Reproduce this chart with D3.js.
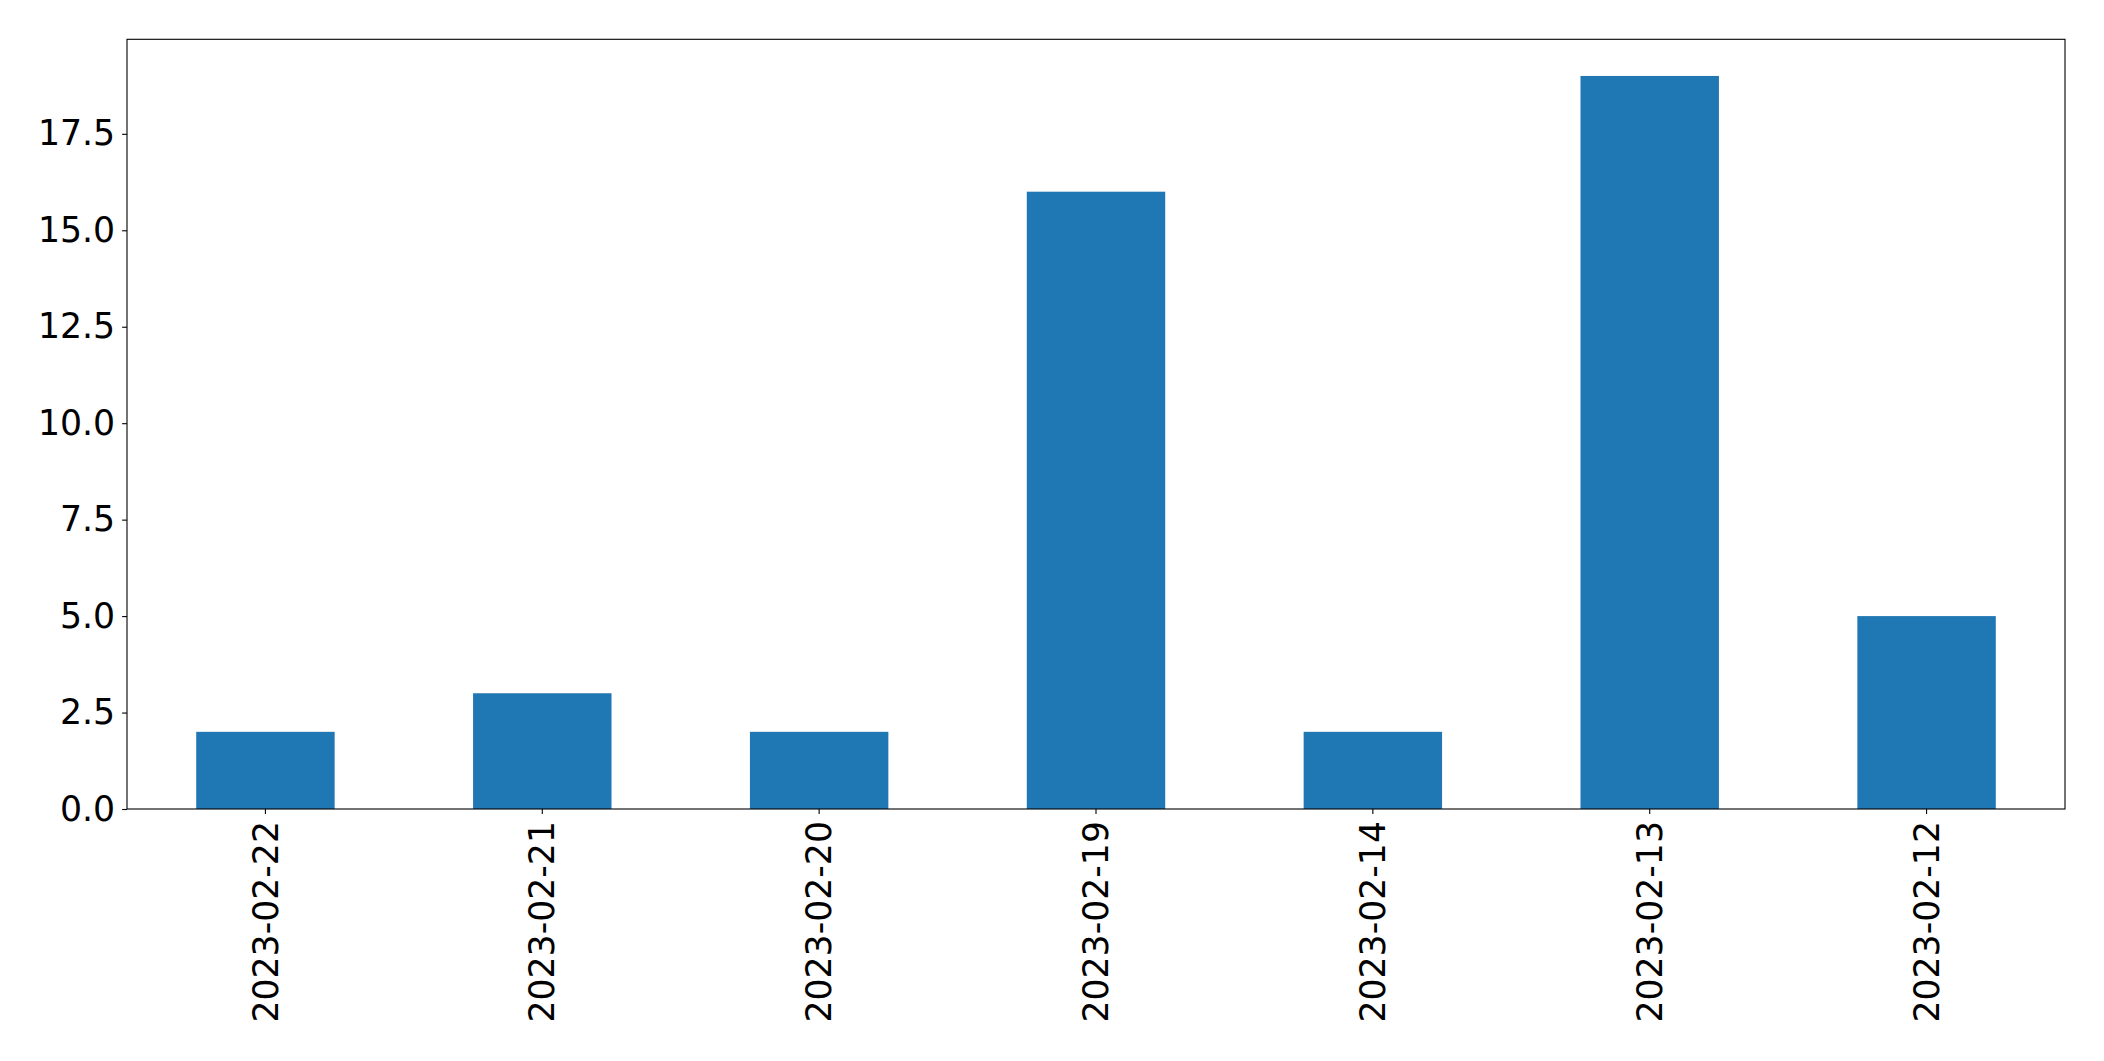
<!DOCTYPE html>
<html><head><meta charset="utf-8">
<script src="https://cdn.jsdelivr.net/npm/d3@7"></script>
<style>html,body{margin:0;padding:0;background:#fff;}</style>
</head><body>
<svg id="chart" width="2104" height="1061"></svg>
<script>
const categories = ["2023-02-22","2023-02-21","2023-02-20","2023-02-19","2023-02-14","2023-02-13","2023-02-12"];
const values = [2, 3, 2, 16, 2, 19, 5];
const yTicks = [0, 2.5, 5, 7.5, 10, 12.5, 15, 17.5];

const W = 2104, H = 1061;
const m = {left: 127, right: 2065, top: 39.3, bottom: 809};
const svg = d3.select("#chart");
const fs = 34.7;

const x = d3.scaleBand().domain(categories).range([m.left, m.right]).paddingInner(0.5).paddingOuter(0.25);
const y = d3.scaleLinear().domain([0, d3.max(values) * 1.05]).range([m.bottom, m.top]);

svg.append("g").selectAll("rect").data(values).join("rect")
  .attr("x", (d, i) => x(categories[i]))
  .attr("width", x.bandwidth())
  .attr("y", d => y(d))
  .attr("height", d => y(0) - y(d))
  .attr("fill", "#1f77b4");

const yAxis = svg.append("g").attr("transform", `translate(${m.left},0)`)
  .call(d3.axisLeft(y).tickValues(yTicks).tickFormat(d3.format(".1f")).tickSize(4.9).tickPadding(7));
yAxis.select(".domain").remove();
yAxis.selectAll("text").attr("font-family", "DejaVu Sans").attr("font-size", fs).attr("fill", "#000");
yAxis.selectAll("line").attr("stroke", "#000").attr("stroke-width", 1.1);

const xAxis = svg.append("g").attr("transform", `translate(0,${m.bottom})`)
  .call(d3.axisBottom(x).tickSize(4.9).tickPadding(0));
xAxis.select(".domain").remove();
xAxis.selectAll("line").attr("stroke", "#000").attr("stroke-width", 1.1);
xAxis.selectAll("text")
  .attr("font-family", "DejaVu Sans").attr("font-size", fs).attr("fill", "#000")
  .attr("transform", "rotate(-90)")
  .attr("x", -12).attr("y", 0).attr("dy", "0.35em")
  .attr("text-anchor", "end");

svg.append("rect").attr("x", m.left).attr("y", m.top)
  .attr("width", m.right - m.left).attr("height", m.bottom - m.top)
  .attr("fill", "none").attr("stroke", "#000").attr("stroke-width", 1.1);
</script>
</body></html>
